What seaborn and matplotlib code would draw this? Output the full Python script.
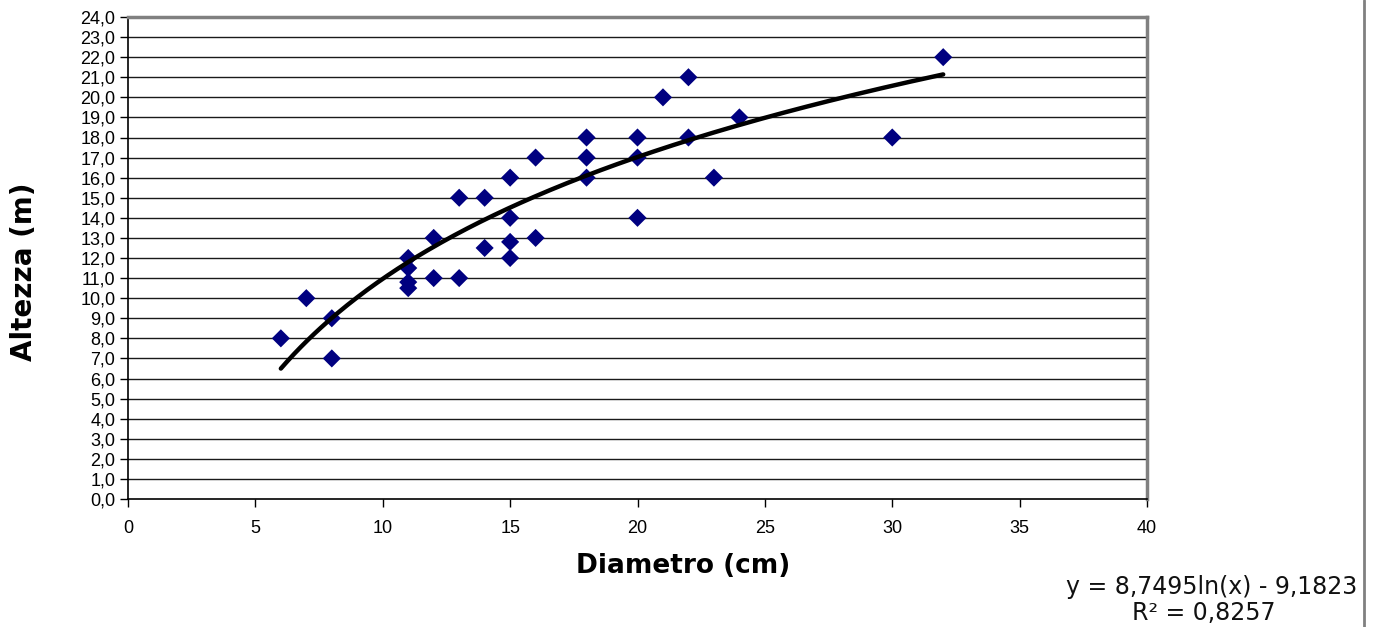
import numpy as np
import pandas as pd
import matplotlib
matplotlib.use("Agg")
import matplotlib.pyplot as plt
import seaborn as sns
from matplotlib.lines import Line2D

# Data
diametro = [6, 7, 8, 8, 11, 11, 11, 11, 12, 12, 13, 13, 14, 14, 15, 15, 15, 15,
            16, 16, 18, 18, 18, 20, 20, 20, 21, 22, 22, 23, 24, 30, 32]
altezza = [8, 10, 9, 7, 12, 11.5, 10.8, 10.5, 13, 11, 15, 11, 15, 12.5, 16, 14, 12.8, 12,
           17, 13, 18, 17, 16, 18, 17, 14, 20, 21, 18, 16, 19, 18, 22]

# Trendline coefficients (from the chart's equation label)
coef_a = 8.7495
coef_b = -9.1823
r2_label = "R² = 0,8257"
eq_label = "y = 8,7495ln(x) - 9,1823"

x_ticks = list(range(0, 41, 5))
y_ticks = [i for i in range(0, 25)]
y_tick_labels = [f"{v:.1f}".replace(".", ",") for v in y_ticks]

sns.set_theme(style="white")
plt.rcParams['font.family'] = ['Liberation Sans', 'DejaVu Sans']
plt.rcParams['text.color'] = 'black'
plt.rcParams['axes.labelcolor'] = 'black'
plt.rcParams['xtick.color'] = 'black'
plt.rcParams['ytick.color'] = 'black'

fig = plt.figure(figsize=(13.75, 6.27), dpi=100)
ax = fig.add_axes([128/1375, 1 - 499/627, (1147 - 128)/1375, (499 - 17)/627])

df = pd.DataFrame({"Diametro": diametro, "Altezza": altezza})
xs = np.linspace(min(diametro), max(diametro), 200)
trend = pd.DataFrame({"x": xs, "y": coef_a * np.log(xs) + coef_b})

for yv in y_ticks[1:-1]:
    ax.axhline(yv, color="#1a1a1a", lw=1.0, zorder=1)

sns.scatterplot(data=df, x="Diametro", y="Altezza", marker="D", color="#000080",
                s=85, edgecolor="none", ax=ax, zorder=3)
sns.lineplot(data=trend, x="x", y="y", color="black", lw=3.2, ax=ax, zorder=4)

ax.set_xlim(0, 40)
ax.set_ylim(0, 24)
ax.set_xticks(x_ticks)
ax.set_xticklabels([str(t) for t in x_ticks], fontsize=13, family="Liberation Sans")
ax.set_yticks(y_ticks)
ax.set_yticklabels(y_tick_labels, fontsize=13, family="Liberation Sans")
ax.tick_params(axis="both", direction="out", length=6, width=1, color="black",
               left=True, bottom=True, pad=3)
ax.tick_params(axis="x", pad=9)

for side in ["left", "bottom"]:
    ax.spines[side].set_color("black")
    ax.spines[side].set_linewidth(1.2)
for side in ["top", "right"]:
    ax.spines[side].set_color("#808080")
    ax.spines[side].set_linewidth(2.5)

ax.set_xlabel("Diametro (cm)", fontsize=19, fontweight="bold", family="DejaVu Sans")
ax.set_ylabel("Altezza (m)", fontsize=20, fontweight="bold", family="DejaVu Sans")
ax.xaxis.set_label_coords((683 - 128) / 1019, (499 - 553) / 482)
ax.yaxis.set_label_coords((38 - 128) / 1019, (499 - 272) / 482)

fig.text(1357/1375, 1 - 587/627, eq_label, ha="right", va="center", fontsize=17,
         family="DejaVu Sans", color="#111111")
fig.text(1204/1375, 1 - 613/627, r2_label, ha="center", va="center", fontsize=17,
         family="DejaVu Sans", color="#111111")

fig.add_artist(Line2D([1364/1375, 1364/1375], [0, 1], transform=fig.transFigure,
                      color="#808080", lw=2))

fig.savefig("out.png", dpi=100)
